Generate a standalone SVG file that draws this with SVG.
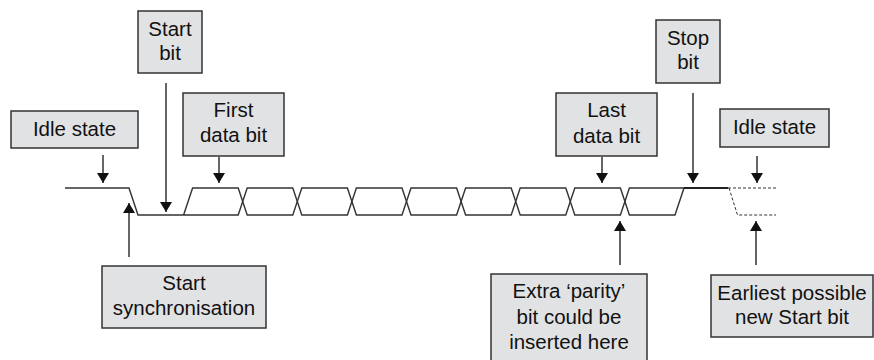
<svg xmlns="http://www.w3.org/2000/svg" width="874" height="360" viewBox="0 0 874 360">
<style>
.box{fill:#e1e2e4;stroke:#333;stroke-width:1.5}
.t{font-family:"Liberation Sans",Arial,sans-serif;font-size:20.5px;fill:#111;text-anchor:middle}
.w{fill:none;stroke:#333;stroke-width:1.4;stroke-linejoin:miter}
.d{fill:none;stroke:#333;stroke-width:1;stroke-dasharray:3 2}
.a{stroke:#333;stroke-width:1.5;fill:none;marker-end:url(#ah)}
</style>
<defs>
<marker id="ah" viewBox="0 0 10 12" refX="10" refY="6" markerWidth="10" markerHeight="12" markerUnits="userSpaceOnUse" orient="auto">
<path d="M0,0 L10,6 L0,12 z" fill="#111"/>
</marker>
</defs>
<rect width="874" height="360" fill="#fff"/>
<g id="waveform">
<path class="w" d="M65,188 H129 L138,215 H238.2 L247.2,188 H292.8 L301.8,215 H347.4 L356.4,188 H402 L411,215 H456.6 L465.6,188 H511.2 L520.2,215 H565.8 L574.8,188 H620.4 L629.4,215 H675 L684,188 H728"/>
<path class="w" d="M183.6,215 L192.6,188 H238.2 L247.2,215 H292.8 L301.8,188 H347.4 L356.4,215 H402 L411,188 H456.6 L465.6,215 H511.2 L520.2,188 H565.8 L574.8,215 H620.4 L629.4,188 H684"/>
<path fill="none" stroke="#222" stroke-width="2" d="M684,188 H728"/>
<path class="d" d="M728,188 H776"/>
<path class="d" d="M729,188 L737.5,215 H776"/>
</g>
<g id="connectors">
<line class="a" x1="103" y1="155" x2="103" y2="183"/>
<line class="a" x1="166" y1="83" x2="166" y2="212"/>
<line class="a" x1="219" y1="157" x2="219" y2="183"/>
<line class="a" x1="129" y1="257" x2="129" y2="203"/>
<line class="a" x1="602" y1="157" x2="602" y2="183"/>
<line class="a" x1="693" y1="93" x2="693" y2="183"/>
<line class="a" x1="757" y1="156" x2="757" y2="183"/>
<line class="a" x1="620" y1="265" x2="620" y2="221"/>
<line class="a" x1="756" y1="265" x2="756" y2="221"/>
</g>
<g id="idle-left">
<rect class="box" x="11" y="111" width="127" height="37"/>
<text class="t" x="74.5" y="136">Idle state</text>
</g>
<g id="start-bit">
<rect class="box" x="138" y="11" width="64" height="62"/>
<text class="t" x="170" y="36">Start</text>
<text class="t" x="170" y="60">bit</text>
</g>
<g id="first-data-bit">
<rect class="box" x="183" y="93" width="101" height="63"/>
<text class="t" x="233.5" y="117">First</text>
<text class="t" x="233.5" y="142">data bit</text>
</g>
<g id="start-sync">
<rect class="box" x="102" y="266" width="164" height="62"/>
<text class="t" x="184" y="290">Start</text>
<text class="t" x="184" y="315">synchronisation</text>
</g>
<g id="last-data-bit">
<rect class="box" x="556" y="93" width="101" height="63"/>
<text class="t" x="606.5" y="117">Last</text>
<text class="t" x="606.5" y="143">data bit</text>
</g>
<g id="stop-bit">
<rect class="box" x="656" y="20" width="64" height="63"/>
<text class="t" x="688" y="45">Stop</text>
<text class="t" x="688" y="69">bit</text>
</g>
<g id="idle-right">
<rect class="box" x="720" y="109" width="109" height="38"/>
<text class="t" x="774.5" y="134">Idle state</text>
</g>
<g id="parity">
<rect class="box" x="491" y="274" width="156" height="90"/>
<text class="t" x="569" y="298">Extra ‘parity’</text>
<text class="t" x="569" y="324">bit could be</text>
<text class="t" x="569" y="349">inserted here</text>
</g>
<g id="earliest-start">
<rect class="box" x="711" y="275" width="162" height="62"/>
<text class="t" x="792" y="300">Earliest possible</text>
<text class="t" x="792" y="324">new Start bit</text>
</g>
</svg>
